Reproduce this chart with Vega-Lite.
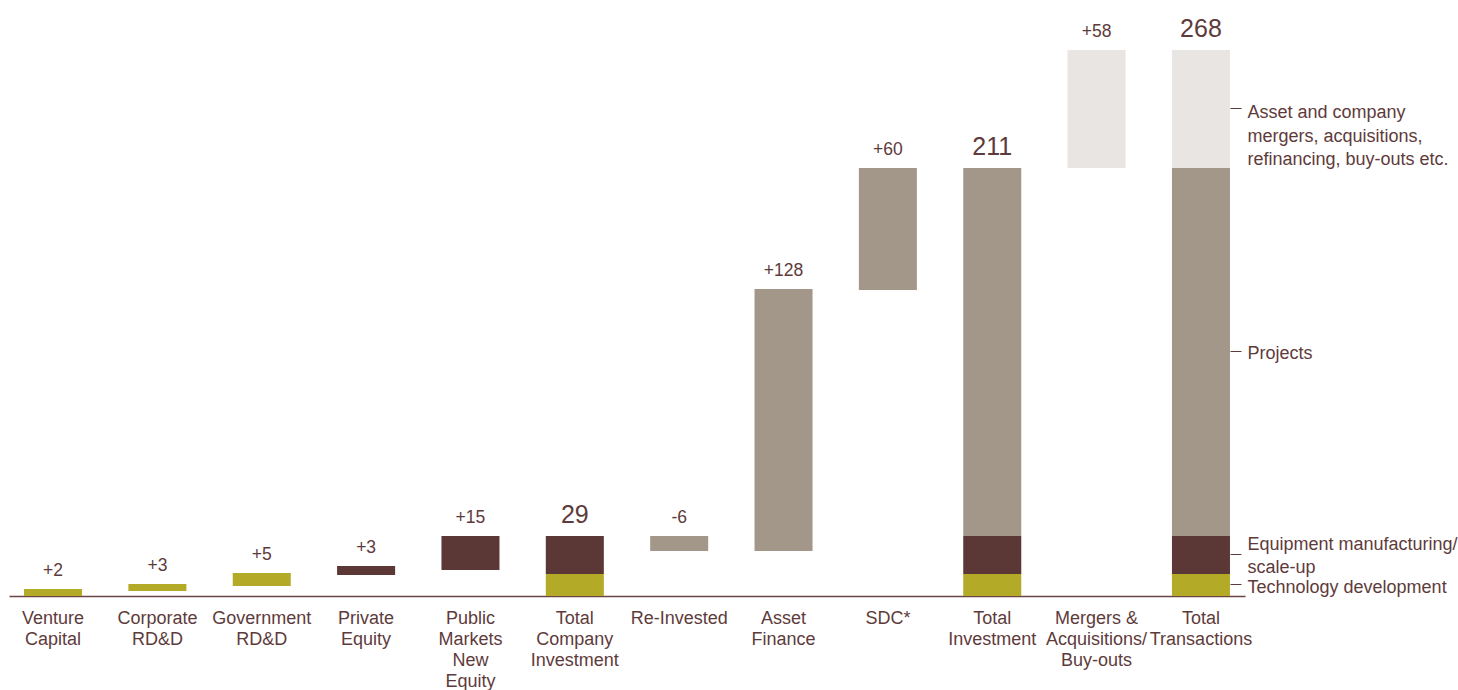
{
  "$schema": "https://vega.github.io/schema/vega-lite/v6.json",
  "width": 1236,
  "height": 596,
  "padding": {"left": 9, "top": 0, "right": 0, "bottom": 0},
  "autosize": {"type": "pad"},
  "config": {
    "view": {"stroke": null},
    "font": "Liberation Sans",
    "text": {"font": "Liberation Sans"}
  },
  "datasets": {
    "bars": [
      {"category": "Venture Capital", "segment": "tech", "start": 0, "end": 3.4},
      {"category": "Corporate RD&D", "segment": "tech", "start": 2.5, "end": 5.9},
      {"category": "Government RD&D", "segment": "tech", "start": 4.9, "end": 11.3},
      {"category": "Private Equity", "segment": "equip", "start": 10.3, "end": 14.7},
      {"category": "Public Markets New Equity", "segment": "equip", "start": 12.8, "end": 29.5},
      {"category": "Total Company Investment", "segment": "tech", "start": 0, "end": 10.8},
      {"category": "Total Company Investment", "segment": "equip", "start": 10.8, "end": 29.5},
      {"category": "Re-Invested", "segment": "projects", "start": 22.1, "end": 29.5},
      {"category": "Asset Finance", "segment": "projects", "start": 22.1, "end": 150.7},
      {"category": "SDC*", "segment": "projects", "start": 150.2, "end": 210.1},
      {"category": "Total Investment", "segment": "tech", "start": 0, "end": 10.8},
      {"category": "Total Investment", "segment": "equip", "start": 10.8, "end": 29.5},
      {"category": "Total Investment", "segment": "projects", "start": 29.5, "end": 210.1},
      {"category": "Mergers\u00a0& Acquisitions/ Buy-outs", "segment": "mna", "start": 210.1, "end": 268},
      {"category": "Total Transactions", "segment": "tech", "start": 0, "end": 10.8},
      {"category": "Total Transactions", "segment": "equip", "start": 10.8, "end": 29.5},
      {"category": "Total Transactions", "segment": "projects", "start": 29.5, "end": 210.1},
      {"category": "Total Transactions", "segment": "mna", "start": 210.1, "end": 268}
    ],
    "labels": [
      {"category": "Venture Capital", "kind": "delta", "start": 3.4, "label": "+2"},
      {"category": "Corporate RD&D", "kind": "delta", "start": 5.9, "label": "+3"},
      {"category": "Government RD&D", "kind": "delta", "start": 11.3, "label": "+5"},
      {"category": "Private Equity", "kind": "delta", "start": 14.7, "label": "+3"},
      {"category": "Public Markets New Equity", "kind": "delta", "start": 29.5, "label": "+15"},
      {"category": "Total Company Investment", "kind": "total", "start": 29.5, "label": "29"},
      {"category": "Re-Invested", "kind": "delta", "start": 29.5, "label": "-6"},
      {"category": "Asset Finance", "kind": "delta", "start": 150.7, "label": "+128"},
      {"category": "SDC*", "kind": "delta", "start": 210.1, "label": "+60"},
      {"category": "Total Investment", "kind": "total", "start": 210.1, "label": "211"},
      {"category": "Mergers\u00a0& Acquisitions/ Buy-outs", "kind": "delta", "start": 268, "label": "+58"},
      {"category": "Total Transactions", "kind": "total", "start": 268, "label": "268"}
    ]
  },
  "encoding": {
    "x": {
      "field": "category",
      "type": "nominal",
      "title": null,
      "scale": {
        "domain": ["Venture Capital", "Corporate RD&D", "Government RD&D", "Private Equity", "Public Markets New Equity", "Total Company Investment", "Re-Invested", "Asset Finance", "SDC*", "Total Investment", "Mergers\u00a0& Acquisitions/ Buy-outs", "Total Transactions"],
        "paddingInner": 0.444,
        "paddingOuter": 0.144
      },
      "axis": {
        "orient": "bottom",
        "labelAngle": 0,
        "ticks": false,
        "domainColor": "#6b4545",
        "domainWidth": 1.5,
        "labelColor": "#5e3b3b",
        "labelFont": "Liberation Sans",
        "labelFontSize": 18,
        "labelPadding": 13,
        "labelLineHeight": 21,
        "labelBaseline": "top",
        "labelLimit": 0,
        "labelExpr": "split(datum.label, ' ')"
      }
    },
    "y": {
      "field": "start",
      "type": "quantitative",
      "title": null,
      "scale": {"domain": [0, 292.5], "nice": false, "zero": true},
      "axis": {
        "orient": "right",
        "offset": -15,
        "values": [5.9, 20.6, 120.3, 239.6],
        "domain": false,
        "grid": false,
        "ticks": true,
        "tickSize": 11,
        "tickColor": "#5e3b3b",
        "tickWidth": 1,
        "labelPadding": 6,
        "labelColor": "#5e3b3b",
        "labelFont": "Liberation Sans",
        "labelFontSize": 18,
        "labelLineHeight": 23.5,
        "labelOverlap": false,
        "labelBound": false,
        "labelFlush": false,
        "labelLimit": 0,
        "labelBaseline": {"condition": {"test": "datum.value > 200", "value": "top"}, "value": "middle"},
        "labelOffset": {"condition": [{"test": "datum.value > 200", "value": -4}, {"test": "datum.value > 100", "value": 3}, {"test": "datum.value > 10", "value": -10}], "value": 4},
        "labelExpr": "datum.value < 10 ? 'Technology development' : datum.value < 50 ? ['Equipment manufacturing/', 'scale-up'] : datum.value < 200 ? 'Projects' : ['Asset and company', 'mergers, acquisitions,', 'refinancing, buy-outs etc.']"
      }
    }
  },
  "layer": [
    {
      "data": {"name": "bars"},
      "mark": {"type": "bar"},
      "encoding": {
        "y2": {"field": "end"},
        "color": {
          "field": "segment",
          "type": "nominal",
          "scale": {"domain": ["tech", "equip", "projects", "mna"], "range": ["#b3ab28", "#5b3735", "#a29789", "#e9e5e2"]},
          "legend": null
        }
      }
    },
    {
      "data": {"name": "labels"},
      "transform": [{"filter": "datum.kind === 'delta'"}],
      "mark": {"type": "text", "baseline": "alphabetic", "dy": -13, "fontSize": 17.5, "color": "#5e3b3b", "font": "Liberation Sans"},
      "encoding": {
        "text": {"field": "label"}
      }
    },
    {
      "data": {"name": "labels"},
      "transform": [{"filter": "datum.kind === 'total'"}],
      "mark": {"type": "text", "baseline": "alphabetic", "dy": -13, "fontSize": 25, "color": "#5e3b3b", "font": "Liberation Sans"},
      "encoding": {
        "text": {"field": "label"}
      }
    }
  ]
}
